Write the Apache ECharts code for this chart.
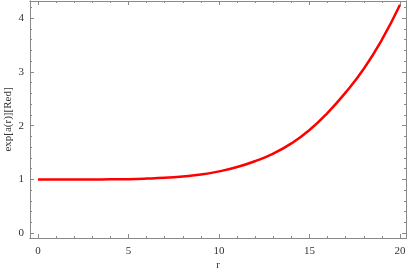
<!DOCTYPE html>
<html><head><meta charset="utf-8">
<script src="https://cdn.jsdelivr.net/npm/echarts@6/dist/echarts.min.js"></script>
<style>html,body{margin:0;padding:0;background:#fff}#c{width:409px;height:273px}</style>
</head><body><div id="c"></div>
<script>
const rValues = [0,1,2,3,4,5,6,7,8,9,10,11,12,13,14,15,16,17,18,19,20];
const expA    = [1.0,1.0,1.0,1.0,1.001,1.005,1.015,1.03,1.055,1.09,1.15,1.23,1.34,1.48,1.67,1.92,2.24,2.62,3.06,3.60,4.25];
const xMajor = [0,5,10,15,20];
const xMinor = [0,1,2,3,4,5,6,7,8,9,10,11,12,13,14,15,16,17,18,19,20];
const yMajor = [0,1,2,3,4];
const yMinor = [0,0.2,0.4,0.6,0.8,1,1.2,1.4,1.6,1.8,2,2.2,2.4,2.6,2.8,3,3.2,3.4,3.6,3.8,4,4.2];
const xTitle = 'r';
const yTitle = 'exp[a(r)][Red]';

const font = 'Liberation Serif';
const frame = '#8a8a8a';
const XMIN=-0.44, XMAX=20.33, YMIN=-0.09, YMAX=4.32;
function xa(pos, vals, len, labels, name){
  return {type:'value', position:pos, offset:0, min:XMIN, max:XMAX, splitLine:{show:false},
    axisLine:{show:true, onZero:false, lineStyle:{color:frame,width:1}},
    axisTick:{show:true, inside:true, length:len, customValues:vals, lineStyle:{color:frame}},
    axisLabel:{show:labels, customValues:xMajor, fontFamily:font, fontSize:11, color:'#333', margin:8},
    name:name||'', nameLocation:'middle', nameGap:22, nameMoveOverlap:false,
    nameTextStyle:{fontFamily:font,fontSize:11,color:'#333'}};
}
function ya(pos, vals, len, labels, name){
  return {type:'value', position:pos, offset:0, min:YMIN, max:YMAX, splitLine:{show:false},
    axisLine:{show:true, onZero:false, lineStyle:{color:frame,width:1}},
    axisTick:{show:true, inside:true, length:len, customValues:vals, lineStyle:{color:frame}},
    axisLabel:{show:labels, customValues:yMajor, fontFamily:font, fontSize:11, color:'#333', margin:6},
    name:name||'', nameLocation:'middle', nameGap:16, nameMoveOverlap:false,
    nameTextStyle:{fontFamily:font,fontSize:11,color:'#333'}};
}
const chart = echarts.init(document.getElementById('c'));
chart.setOption({
  animation:false,
  grid:{left:30, right:3, top:1, bottom:35, containLabel:false, outerBoundsMode:'none'},
  xAxis:[xa('bottom',xMajor,4,true,xTitle), xa('bottom',xMinor,2,false), xa('top',xMajor,4,false), xa('top',xMinor,2,false)],
  yAxis:[ya('left',yMajor,4,true,yTitle), ya('left',yMinor,2,false), ya('right',yMajor,4,false), ya('right',yMinor,2,false)],
  series:[{type:'line', xAxisIndex:0, yAxisIndex:0, showSymbol:false, smooth:true,
    lineStyle:{color:'#ff0000', width:2.5},
    data:rValues.map((r,i)=>[r,expA[i]])}]
});
</script></body></html>
